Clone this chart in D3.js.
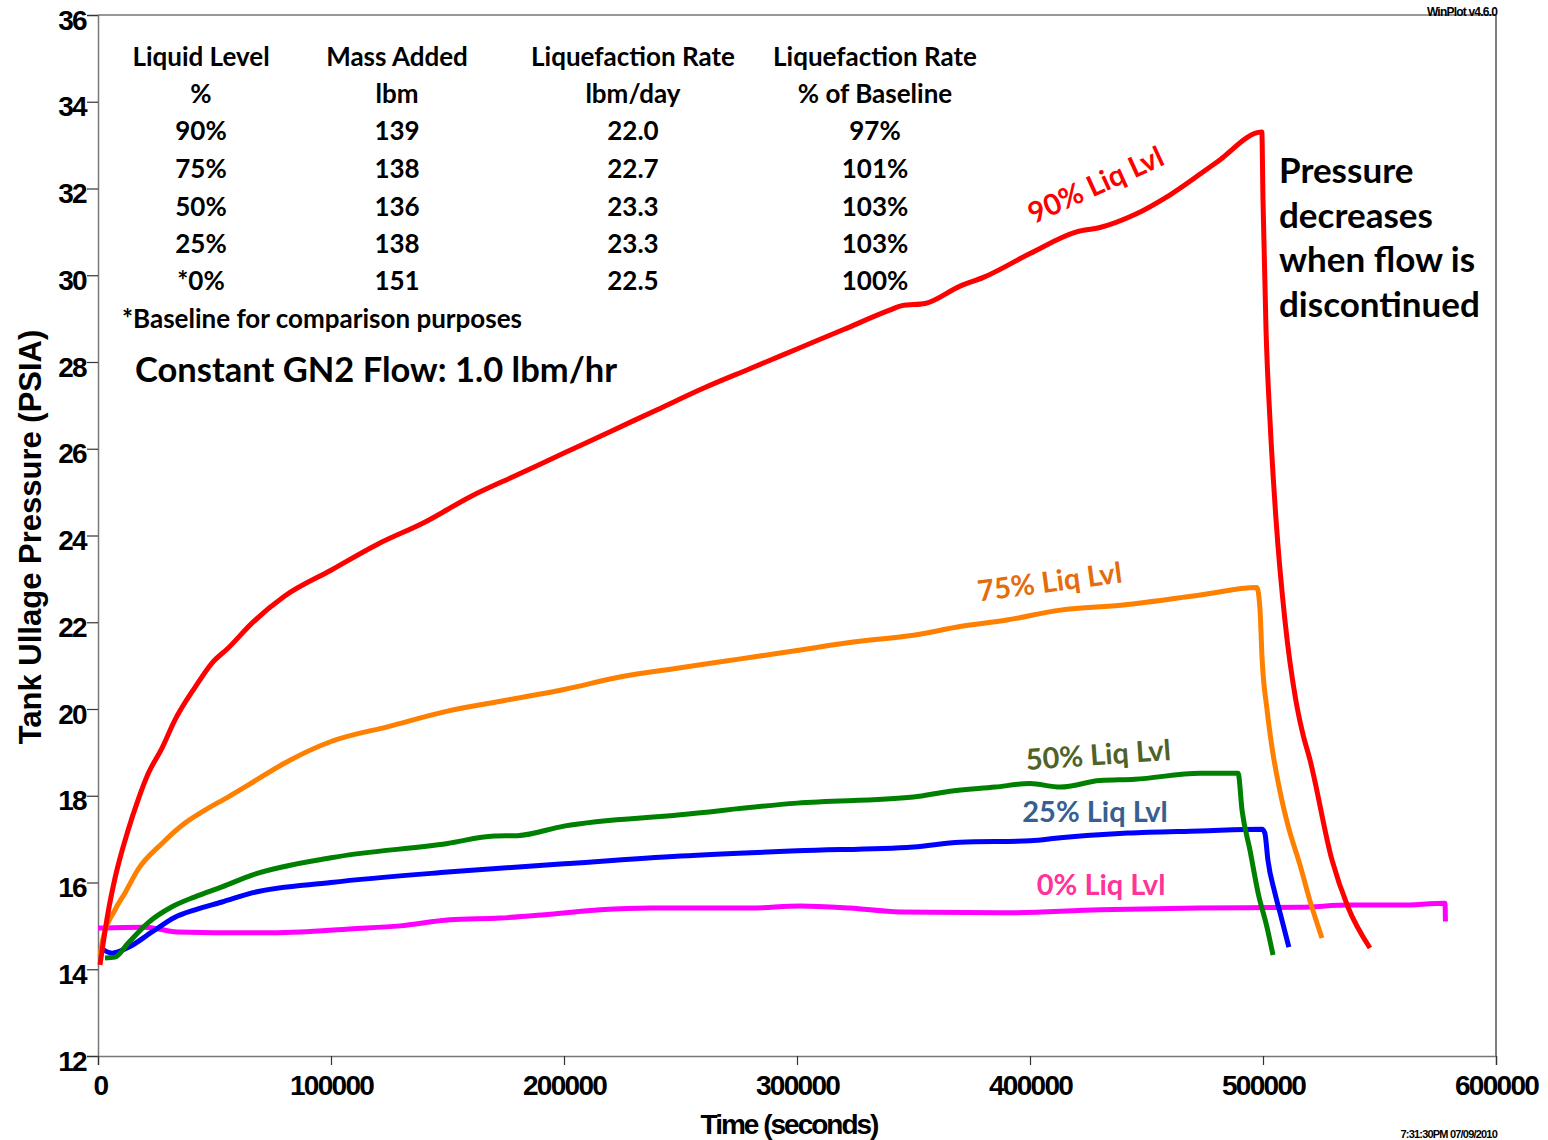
<!DOCTYPE html>
<html>
<head>
<meta charset="utf-8">
<script src="https://cdn.jsdelivr.net/npm/d3@7"></script>
<style>
  body { margin: 0; background: #fff; }
  svg { display: block; }
  .tick text { font-family: "Liberation Sans", Arial, sans-serif; font-weight: bold; font-size: 28px; letter-spacing: -1.7px; fill: #000; }
  .note { font-family: Lato, "Open Sans", sans-serif; font-weight: bold; }
</style>
</head>
<body>
<svg id="chart" width="1548" height="1140"></svg>
<script>
// time (s), tank ullage pressure (psia)
const liq90 = [
  [860, 14.1], [4290, 15.3], [7300, 16.1], [12880, 17.2], [17170, 17.9], [21460, 18.5],
  [27470, 19.1], [33050, 19.75], [41630, 20.5], [48930, 21.06], [55790, 21.4], [66090, 21.98],
  [80000, 22.6], [100000, 23.2], [120000, 23.8], [140000, 24.3], [160000, 24.9], [180000, 25.4],
  [200000, 25.9], [220000, 26.4], [240000, 26.9], [260000, 27.4], [280000, 27.85], [300000, 28.3],
  [320000, 28.75], [340000, 29.2], [345000, 29.3], [355000, 29.35], [370000, 29.75], [380000, 29.95],
  [400000, 30.5], [420000, 31.0], [430000, 31.1], [445000, 31.4], [460000, 31.85], [480000, 32.6],
  [499500, 33.3], [500000, 31.73], [501300, 28.74], [503000, 26.66], [505600, 24.36], [509400, 22.05],
  [514100, 20.2], [517000, 19.45], [520200, 18.82], [529600, 16.52], [536500, 15.43], [545900, 14.49]
];
const liq75 = [
  [860, 14.3], [1720, 14.6], [7300, 15.37], [11590, 15.76], [17170, 16.3], [27470, 16.9],
  [37340, 17.37], [45920, 17.67], [55790, 17.97], [66090, 18.3], [80000, 18.75], [100000, 19.25],
  [125000, 19.6], [150000, 19.95], [175000, 20.2], [200000, 20.45], [225000, 20.75], [250000, 20.95],
  [275000, 21.15], [300000, 21.35], [325000, 21.55], [350000, 21.7], [370000, 21.9], [390000, 22.05],
  [413000, 22.28], [440000, 22.4], [473000, 22.63], [497400, 22.8], [498700, 22.3], [499600, 21.17],
  [501700, 20.0], [503900, 19.1], [507300, 18.1], [510800, 17.3], [515900, 16.4], [520200, 15.57],
  [525300, 14.72]
];
const liq50 = [
  [3000, 14.26], [7300, 14.28], [12880, 14.6], [21460, 15.07], [31760, 15.44], [41630, 15.67],
  [53220, 15.9], [66090, 16.17], [100000, 16.57], [150000, 16.9], [170000, 17.07], [180000, 17.08],
  [200000, 17.3], [250000, 17.56], [300000, 17.83], [350000, 17.97], [365000, 18.1], [385000, 18.2],
  [400000, 18.28], [413000, 18.2], [430000, 18.35], [445000, 18.38], [473000, 18.52], [489300, 18.52],
  [491000, 17.67], [494400, 16.75], [497900, 15.76], [501700, 14.97], [504300, 14.33]
];
const liq25 = [
  [860, 14.5], [6010, 14.37], [12880, 14.5], [23180, 14.86], [33050, 15.2], [41630, 15.37],
  [53220, 15.55], [66090, 15.76], [100000, 16.0], [150000, 16.24], [200000, 16.43], [250000, 16.61],
  [300000, 16.73], [350000, 16.82], [370000, 16.93], [400000, 16.96], [413000, 17.03], [442000, 17.14],
  [473000, 17.19], [499600, 17.23], [500800, 17.14], [502100, 16.52], [505100, 15.76], [508100, 15.14],
  [511100, 14.51]
];
const liq0 = [
  [0, 14.95], [20000, 14.97], [34000, 14.86], [66000, 14.84], [86700, 14.86], [108000, 14.93],
  [129600, 15.0], [151000, 15.14], [172500, 15.18], [194000, 15.27], [215500, 15.37], [237000, 15.41],
  [279800, 15.41], [301300, 15.46], [322700, 15.41], [344200, 15.32], [387100, 15.3], [430000, 15.37],
  [473000, 15.41], [515900, 15.43], [537300, 15.48], [558800, 15.48], [578100, 15.52], [578300, 15.1]
];

const seriesNames = ["0% Liq Lvl", "25% Liq Lvl", "50% Liq Lvl", "75% Liq Lvl", "90% Liq Lvl"];
const seriesData = [liq0, liq25, liq50, liq75, liq90];
const lineColors = ["#ff00ff", "#0000ff", "#008000", "#ff8000", "#ff0000"];
const labelColors = ["#ff3399", "#376092", "#4f6228", "#e46c0a", "#ff0000"];
// baseline midpoint of each label (time, psia) and its tilt in degrees
const labelAt = [[430500, 15.71], [427900, 17.39], [429600, 18.71], [409000, 22.70], [430000, 31.87]];
const labelTilt = [0, 0, -4, -7.5, -24.5];

const yTicks = d3.range(12, 37, 2);
const xTicks = d3.range(0, 600001, 100000);

const tableHead1 = ["Liquid Level", "Mass Added", "Liquefaction Rate", "Liquefaction Rate"];
const tableHead2 = ["%", "lbm", "lbm/day", "% of Baseline"];
const tableLevel = ["90%", "75%", "50%", "25%", "*0%"];
const tableMass = ["139", "138", "136", "138", "151"];
const tableRate = ["22.0", "22.7", "23.3", "23.3", "22.5"];
const tablePct = ["97%", "101%", "103%", "103%", "100%"];

const x = d3.scaleLinear().domain([0, 600000]).range([98, 1496]);
const y = d3.scaleLinear().domain([12, 36]).range([1056, 15]);

const svg = d3.select("#chart");

// frame
svg.append("line").attr("x1", 98).attr("x2", 1496).attr("y1", 15).attr("y2", 15)
    .attr("stroke", "#333").attr("stroke-width", 1.2);
svg.append("line").attr("x1", 1496).attr("x2", 1496).attr("y1", 15).attr("y2", 1056)
    .attr("stroke", "#555").attr("stroke-width", 1.5);

const yAxis = svg.append("g")
    .attr("transform", "translate(98,0)")
    .call(d3.axisLeft(y).tickValues(yTicks).tickSize(11).tickPadding(1).tickFormat(d3.format("d")));
yAxis.select(".domain").attr("stroke", "#777").attr("stroke-width", 1.5);
yAxis.selectAll(".tick line").attr("stroke", "#333").attr("stroke-width", 1.2);
yAxis.selectAll(".tick text").attr("y", 4).attr("dy", "0.36em");

const xAxis = svg.append("g")
    .attr("transform", "translate(0,1056)")
    .call(d3.axisBottom(x).tickValues(xTicks).tickSize(9).tickFormat(d3.format("d")));
xAxis.select(".domain").attr("stroke", "#777").attr("stroke-width", 1.5);
xAxis.selectAll(".tick line").attr("stroke", "#333").attr("stroke-width", 1.2);
xAxis.selectAll(".tick text").attr("y", 39).attr("dy", 0);
xAxis.selectAll(".tick text").filter(d => d === 0).attr("dx", 2);

// axis titles
svg.append("text")
    .attr("transform", "translate(41,537) rotate(-90)")
    .attr("text-anchor", "middle")
    .style("font-family", "'Liberation Sans', Arial, sans-serif")
    .style("font-weight", "bold").style("font-size", "31px")
    .text("Tank Ullage Pressure (PSIA)");
svg.append("text")
    .attr("x", 789).attr("y", 1134)
    .attr("text-anchor", "middle")
    .style("font-family", "'Liberation Sans', Arial, sans-serif")
    .style("font-weight", "bold").style("font-size", "28px").style("letter-spacing", "-2px")
    .text("Time (seconds)");

// small stamps
svg.append("text").attr("x", 1497).attr("y", 16).attr("text-anchor", "end")
    .style("font-family", "'Liberation Sans', Arial, sans-serif").style("font-weight", "bold")
    .style("font-size", "12px").style("letter-spacing", "-0.8px").text("WinPlot v4.6.0");
svg.append("text").attr("x", 1497).attr("y", 1138).attr("text-anchor", "end")
    .style("font-family", "'Liberation Sans', Arial, sans-serif").style("font-weight", "bold")
    .style("font-size", "11px").style("letter-spacing", "-0.8px").text("7:31:30PM 07/09/2010");

// series
const line = d3.line().x(d => x(d[0])).y(d => y(d[1])).curve(d3.curveMonotoneX);
svg.append("g").selectAll("path")
    .data(seriesData)
    .join("path")
    .attr("d", line)
    .attr("fill", "none")
    .attr("stroke", (_d, i) => lineColors[i])
    .attr("stroke-width", 5)
    .attr("stroke-linejoin", "round");

svg.append("g").selectAll("text")
    .data(seriesNames)
    .join("text")
    .attr("class", "note")
    .attr("transform", (_d, i) => `translate(${x(labelAt[i][0])},${y(labelAt[i][1])}) rotate(${labelTilt[i]})`)
    .attr("text-anchor", "middle")
    .style("font-size", "29px")
    .attr("fill", (_d, i) => labelColors[i])
    .text(d => d);

// summary table
const colX = [201, 397, 633, 875];
const rowY = [66, 103, 140, 178, 216, 253, 290];
const tableRows = [tableHead1, tableHead2].concat(
    tableLevel.map((lv, i) => [lv, tableMass[i], tableRate[i], tablePct[i]]));
const tbl = svg.append("g").attr("class", "note").style("font-size", "26px");
tableRows.forEach((row, r) => {
    tbl.selectAll(null).data(row).join("text")
        .attr("x", (_d, c) => colX[c]).attr("y", rowY[r])
        .attr("text-anchor", "middle")
        .text(d => d);
});
tbl.append("text").attr("x", 122).attr("y", 328).text("*Baseline for comparison purposes");

svg.append("text").attr("class", "note")
    .attr("x", 135).attr("y", 382).style("font-size", "34.5px")
    .text("Constant GN2 Flow: 1.0 lbm/hr");

const noteLines = ["Pressure", "decreases", "when flow is", "discontinued"];
svg.append("g").attr("class", "note").style("font-size", "35px")
    .selectAll("text").data(noteLines).join("text")
    .attr("x", 1279).attr("y", (_d, i) => 183 + i * 44.5)
    .text(d => d);
</script>
</body>
</html>
